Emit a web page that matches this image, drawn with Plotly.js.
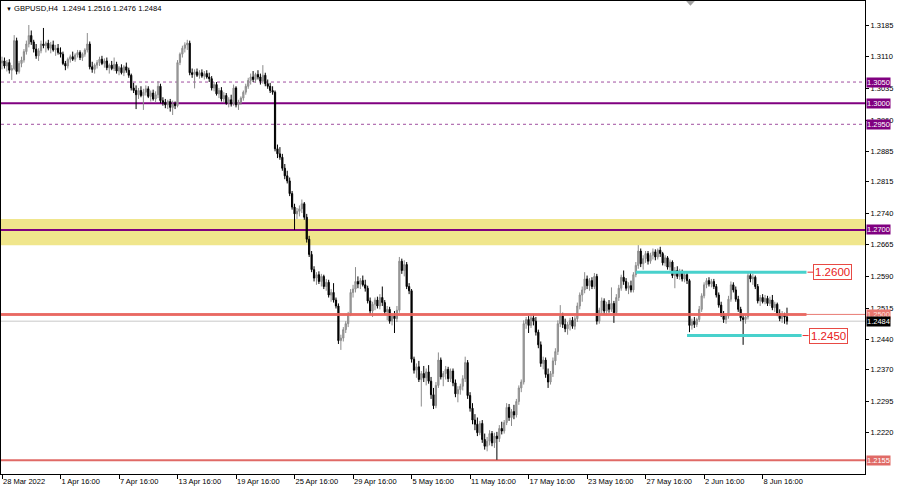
<!DOCTYPE html>
<html>
<head>
<meta charset="utf-8">
<script src="https://cdn.plot.ly/plotly-3.0.1.min.js"></script>
<style>html,body{margin:0;padding:0;background:#fff;}#chart{width:900px;height:488px;}</style>
</head>
<body>
<div id="chart"></div>
<script>
// ---- Data (GBPUSD H4) ----
const openP = [
1.3095,1.3100,1.3088,1.3096,1.3078,1.3082,1.3148,1.3075,1.3094,1.3102,1.3122,1.3140,1.3160,
1.3145,1.3128,1.3112,1.3124,1.3140,1.3136,1.3142,1.3130,1.3138,1.3126,1.3130,1.3120,
1.3116,1.3094,1.3088,1.3104,
1.3110,1.3104,1.3114,1.3120,1.3108,1.3116,1.3126,1.3140,
1.3086,1.3080,1.3090,1.3096,
1.3104,1.3094,1.3100,
1.3084,1.3090,1.3082,1.3092,1.3076,1.3084,1.3072,1.3086,1.3078,
1.3066,1.3036,
1.3030,1.3020,1.3030,1.3018,1.3026,1.3034,1.3016,1.3024,1.3010,1.3020,
1.3040,1.3006,1.3002,1.2996,1.3004,1.2990,1.2998,
1.2994,1.3096,1.3116,1.3130,1.3138,1.3142,
1.3072,1.3068,1.3074,1.3066,1.3072,1.3064,1.3070,1.3062,
1.3058,1.3036,1.3044,1.3022,1.3030,1.3010,1.3018,1.3000,
1.3008,1.2998,1.3036,1.2996,
1.3002,1.3012,1.3026,1.3040,1.3054,1.3062,1.3056,1.3068,1.3062,1.3052,
1.3066,1.3046,1.3040,1.3030,1.3026,
1.2892,1.2880,1.2872,1.2846,1.2828,1.2816,1.2786,
1.2754,1.2738,1.2744,1.2750,1.2762,
1.2730,1.2678,1.2642,1.2606,
1.2586,1.2594,1.2578,
1.2590,1.2566,1.2576,1.2546,1.2552,1.2534,
1.2520,1.2438,
1.2444,1.2464,1.2478,
1.2500,1.2552,
1.2560,1.2578,1.2572,1.2580,1.2570,
1.2562,1.2532,1.2508,
1.2524,1.2534,1.2520,1.2540,
1.2528,1.2506,1.2512,1.2484,1.2496,1.2490,
1.2510,1.2626,
1.2604,1.2618,1.2566,
1.2556,
1.2394,1.2368,1.2376,1.2346,1.2360,1.2350,1.2364,
1.2342,1.2310,1.2284,1.2332,1.2392,1.2352,1.2360,1.2370,1.2348,1.2366,1.2338,1.2312,1.2322,1.2330,1.2348,
1.2386,1.2308,1.2278,1.2250,1.2240,1.2220,1.2242,1.2204,1.2188,1.2200,1.2218,1.2196,1.2212,1.2206,1.2230,1.2224,1.2244,1.2280,1.2256,1.2270,1.2262,1.2294,1.2326,
1.2340,1.2478,1.2488,1.2474,1.2492,1.2484,1.2458,1.2428,1.2384,1.2392,1.2358,1.2340,1.2360,1.2390,1.2412,1.2478,1.2496,1.2476,1.2466,1.2476,1.2486,1.2472,
1.2490,1.2520,1.2546,1.2558,1.2584,1.2568,1.2580,1.2566,1.2590,1.2484,1.2510,1.2532,1.2508,1.2524,1.2512,1.2526,1.2504,1.2540,1.2562,1.2588,1.2578,1.2562,1.2568,1.2558,1.2594,
1.2616,1.2650,1.2620,1.2632,1.2644,1.2626,1.2640,1.2648,1.2636,1.2652,1.2644,1.2622,1.2634,1.2612,1.2624,1.2592,1.2604,1.2590,1.2600,1.2584,1.2594,
1.2580,1.2474,1.2484,1.2476,1.2488,1.2512,1.2544,1.2570,1.2580,1.2572,1.2578,1.2566,1.2546,1.2522,1.2500,1.2488,1.2496,1.2536,1.2570,1.2558,1.2536,1.2512,1.2492,1.2488,
1.2494,1.2592,1.2584,1.2588,1.2566,1.2532,1.2540,1.2530,1.2538,1.2526,1.2534,1.2516,1.2524,1.2502,1.2490,1.2498,1.2494
];
const highP = [
1.3110,1.3108,1.3102,1.3104,1.3090,1.3161,1.3155,1.3100,1.3110,1.3128,1.3148,1.3185,1.3172,
1.3150,1.3140,1.3130,1.3148,1.3178,1.3146,1.3150,1.3145,1.3148,1.3138,1.3140,1.3132,
1.3122,1.3100,1.3108,1.3115,
1.3122,1.3118,1.3126,1.3125,1.3120,1.3130,1.3166,1.3146,
1.3098,1.3094,1.3102,1.3110,
1.3112,1.3106,1.3108,
1.3094,1.3100,1.3108,1.3098,1.3088,1.3092,1.3090,1.3096,1.3084,
1.3070,1.3048,
1.3042,1.3036,1.3040,1.3034,1.3042,1.3040,1.3030,1.3032,1.3028,1.3052,
1.3046,1.3014,1.3010,1.3008,1.3010,1.3006,1.3004,
1.3102,1.3120,1.3136,1.3144,1.3150,1.3148,
1.3082,1.3080,1.3082,1.3078,1.3080,1.3076,1.3078,1.3072,
1.3064,1.3050,1.3050,1.3036,1.3038,1.3026,1.3024,1.3014,
1.3020,1.3044,1.3040,1.3008,
1.3016,1.3030,1.3046,1.3060,1.3070,1.3076,1.3072,1.3078,1.3070,1.3090,
1.3072,1.3056,1.3048,1.3040,1.3030,
1.2902,1.2896,1.2880,1.2856,1.2840,1.2824,1.2792,
1.2762,1.2752,1.2758,1.2772,1.2766,
1.2738,1.2686,1.2650,1.2614,
1.2600,1.2602,1.2596,
1.2594,1.2584,1.2582,1.2560,1.2574,1.2540,
1.2526,1.2452,
1.2470,1.2484,1.2506,
1.2560,1.2570,
1.2612,1.2590,1.2586,1.2592,1.2582,
1.2568,1.2540,1.2530,
1.2540,1.2542,1.2548,1.2566,
1.2534,1.2520,1.2518,1.2502,1.2508,1.2520,
1.2636,1.2632,
1.2628,1.2624,1.2574,
1.2560,
1.2400,1.2384,1.2390,1.2366,1.2378,1.2372,1.2380,
1.2352,1.2326,1.2340,1.2410,1.2398,1.2366,1.2378,1.2376,1.2372,1.2372,1.2346,1.2330,1.2336,1.2356,1.2400,
1.2392,1.2316,1.2290,1.2264,1.2256,1.2248,1.2250,1.2218,1.2210,1.2226,1.2224,1.2220,1.2222,1.2238,1.2246,1.2250,1.2290,1.2288,1.2276,1.2286,1.2300,1.2332,1.2346,
1.2486,1.2494,1.2496,1.2498,1.2500,1.2494,1.2464,1.2436,1.2400,1.2398,1.2372,1.2366,1.2398,1.2420,1.2486,1.2522,1.2504,1.2490,1.2482,1.2492,1.2494,1.2496,
1.2528,1.2552,1.2566,1.2600,1.2592,1.2586,1.2588,1.2598,1.2596,1.2516,1.2540,1.2538,1.2530,1.2534,1.2564,1.2532,1.2548,1.2570,1.2594,1.2604,1.2586,1.2576,1.2580,1.2600,1.2624,
1.2664,1.2656,1.2640,1.2650,1.2650,1.2646,1.2656,1.2654,1.2656,1.2660,1.2648,1.2640,1.2638,1.2630,1.2628,1.2612,1.2614,1.2608,1.2606,1.2600,1.2600,
1.2584,1.2490,1.2494,1.2492,1.2520,1.2550,1.2576,1.2586,1.2588,1.2584,1.2584,1.2572,1.2552,1.2530,1.2508,1.2502,1.2544,1.2578,1.2576,1.2566,1.2544,1.2518,1.2500,1.2500,
1.2600,1.2600,1.2596,1.2592,1.2572,1.2546,1.2548,1.2546,1.2544,1.2542,1.2546,1.2530,1.2528,1.2512,1.2508,1.2504,1.2516
];
const lowP = [
1.3080,1.3082,1.3075,1.3070,1.3055,1.3078,1.3068,1.3070,1.3085,1.3096,1.3115,1.3132,1.3138,
1.3120,1.3105,1.3100,1.3118,1.3130,1.3120,1.3125,1.3118,1.3122,1.3112,1.3115,1.3108,
1.3090,1.3078,1.3082,1.3096,
1.3100,1.3098,1.3108,1.3102,1.3100,1.3110,1.3120,1.3080,
1.3072,1.3070,1.3082,1.3088,
1.3090,1.3084,1.3078,
1.3070,1.3078,1.3076,1.3070,1.3066,1.3068,1.3064,1.3072,1.3060,
1.3030,1.3024,
1.2986,1.3010,1.3014,1.2984,1.3018,1.3012,1.3004,1.3006,1.3002,1.3012,
1.3000,1.2994,1.2988,1.2986,1.2980,1.2972,1.2986,
1.2990,1.3090,1.3108,1.3120,1.3126,1.3066,
1.3060,1.3035,1.3062,1.3058,1.3060,1.3056,1.3058,1.3050,
1.3030,1.3028,1.3018,1.3012,1.3004,1.3002,1.2996,1.2990,
1.2992,1.2994,1.2990,1.2984,
1.2996,1.3006,1.3020,1.3034,1.3044,1.3050,1.3048,1.3056,1.3044,1.3046,
1.3040,1.3034,1.3024,1.3020,1.2886,
1.2870,1.2866,1.2840,1.2820,1.2810,1.2780,1.2748,
1.2700,1.2726,1.2732,1.2740,1.2724,
1.2670,1.2636,1.2600,1.2578,
1.2570,1.2572,1.2566,
1.2560,1.2556,1.2540,1.2530,1.2528,1.2514,
1.2430,1.2416,
1.2436,1.2456,1.2470,
1.2496,1.2540,
1.2552,1.2562,1.2560,1.2566,1.2554,
1.2526,1.2500,1.2494,
1.2510,1.2514,1.2512,1.2520,
1.2500,1.2486,1.2478,1.2474,1.2456,1.2482,
1.2504,1.2596,
1.2590,1.2560,1.2548,
1.2386,
1.2360,1.2350,1.2340,1.2282,1.2340,1.2332,1.2336,
1.2300,1.2276,1.2278,1.2326,1.2346,1.2330,1.2346,1.2340,1.2340,1.2330,1.2304,1.2292,1.2310,1.2320,1.2340,
1.2300,1.2270,1.2240,1.2226,1.2212,1.2214,1.2196,1.2180,1.2176,1.2190,1.2188,1.2184,1.2156,1.2198,1.2216,1.2218,1.2238,1.2248,1.2236,1.2252,1.2256,1.2286,1.2316,
1.2334,1.2466,1.2456,1.2468,1.2474,1.2450,1.2420,1.2376,1.2370,1.2350,1.2326,1.2334,1.2352,1.2380,1.2404,1.2470,1.2468,1.2458,1.2452,1.2462,1.2466,1.2464,
1.2482,1.2512,1.2530,1.2550,1.2560,1.2556,1.2560,1.2560,1.2476,1.2478,1.2502,1.2500,1.2498,1.2504,1.2506,1.2480,1.2498,1.2532,1.2556,1.2570,1.2556,1.2548,1.2552,1.2552,1.2588,
1.2608,1.2612,1.2606,1.2622,1.2618,1.2620,1.2630,1.2628,1.2630,1.2636,1.2616,1.2614,1.2606,1.2604,1.2586,1.2562,1.2584,1.2582,1.2578,1.2576,1.2572,
1.2458,1.2464,1.2468,1.2470,1.2482,1.2506,1.2538,1.2562,1.2566,1.2564,1.2560,1.2540,1.2516,1.2494,1.2480,1.2478,1.2490,1.2530,1.2552,1.2530,1.2506,1.2484,1.2428,1.2478,
1.2488,1.2576,1.2570,1.2560,1.2526,1.2520,1.2526,1.2524,1.2520,1.2520,1.2510,1.2506,1.2496,1.2484,1.2480,1.2478,1.2476
];
const closeP = [
1.3100,1.3088,1.3096,1.3078,1.3082,1.3148,1.3075,1.3094,1.3102,1.3122,1.3140,1.3160,1.3145,
1.3128,1.3112,1.3124,1.3140,1.3136,1.3142,1.3130,1.3138,1.3126,1.3130,1.3120,1.3116,
1.3094,1.3088,1.3104,1.3110,
1.3104,1.3114,1.3120,1.3108,1.3116,1.3126,1.3140,1.3086,
1.3080,1.3090,1.3096,1.3104,
1.3094,1.3100,1.3084,
1.3090,1.3082,1.3092,1.3076,1.3084,1.3072,1.3086,1.3078,1.3066,
1.3036,1.3030,
1.3020,1.3030,1.3018,1.3026,1.3034,1.3016,1.3024,1.3010,1.3020,1.3040,
1.3006,1.3002,1.2996,1.3004,1.2990,1.2998,1.2994,
1.3096,1.3116,1.3130,1.3138,1.3142,1.3072,
1.3068,1.3074,1.3066,1.3072,1.3064,1.3070,1.3062,1.3058,
1.3036,1.3044,1.3022,1.3030,1.3010,1.3018,1.3000,1.3008,
1.2998,1.3036,1.2996,1.3002,
1.3012,1.3026,1.3040,1.3054,1.3062,1.3056,1.3068,1.3062,1.3052,1.3066,
1.3046,1.3040,1.3030,1.3026,1.2892,
1.2880,1.2872,1.2846,1.2828,1.2816,1.2786,1.2754,
1.2738,1.2744,1.2750,1.2762,1.2730,
1.2678,1.2642,1.2606,1.2586,
1.2594,1.2578,1.2590,
1.2566,1.2576,1.2546,1.2552,1.2534,1.2520,
1.2438,1.2444,
1.2464,1.2478,1.2500,
1.2552,1.2560,
1.2578,1.2572,1.2580,1.2570,1.2562,
1.2532,1.2508,1.2524,
1.2534,1.2520,1.2540,1.2528,
1.2506,1.2512,1.2484,1.2496,1.2490,1.2510,
1.2626,1.2604,
1.2618,1.2566,1.2556,
1.2394,
1.2368,1.2376,1.2346,1.2360,1.2350,1.2364,1.2342,
1.2310,1.2284,1.2332,1.2392,1.2352,1.2360,1.2370,1.2348,1.2366,1.2338,1.2312,1.2322,1.2330,1.2348,1.2386,
1.2308,1.2278,1.2250,1.2240,1.2220,1.2242,1.2204,1.2188,1.2200,1.2218,1.2196,1.2212,1.2206,1.2230,1.2224,1.2244,1.2280,1.2256,1.2270,1.2262,1.2294,1.2326,1.2340,
1.2478,1.2488,1.2474,1.2492,1.2484,1.2458,1.2428,1.2384,1.2392,1.2358,1.2340,1.2360,1.2390,1.2412,1.2478,1.2496,1.2476,1.2466,1.2476,1.2486,1.2472,1.2490,
1.2520,1.2546,1.2558,1.2584,1.2568,1.2580,1.2566,1.2590,1.2484,1.2510,1.2532,1.2508,1.2524,1.2512,1.2526,1.2504,1.2540,1.2562,1.2588,1.2578,1.2562,1.2568,1.2558,1.2594,1.2616,
1.2650,1.2620,1.2632,1.2644,1.2626,1.2640,1.2648,1.2636,1.2652,1.2644,1.2622,1.2634,1.2612,1.2624,1.2592,1.2604,1.2590,1.2600,1.2584,1.2594,1.2580,
1.2474,1.2484,1.2476,1.2488,1.2512,1.2544,1.2570,1.2580,1.2572,1.2578,1.2566,1.2546,1.2522,1.2500,1.2488,1.2496,1.2536,1.2570,1.2558,1.2536,1.2512,1.2492,1.2488,1.2494,
1.2592,1.2584,1.2588,1.2566,1.2532,1.2540,1.2530,1.2538,1.2526,1.2534,1.2516,1.2524,1.2502,1.2490,1.2498,1.2494,1.2484
];

// time axis: bar index of each labelled bar and its label
const timeTickBars = [0, 24, 48, 72, 96, 120, 144, 168, 192, 216, 240, 264, 288, 312];
const timeTickText = ['28 Mar 2022','1 Apr 16:00','7 Apr 16:00','13 Apr 16:00','19 Apr 16:00','25 Apr 16:00',
  '29 Apr 16:00','5 May 16:00','11 May 16:00','17 May 16:00','23 May 16:00','27 May 16:00','2 Jun 16:00','8 Jun 16:00'];

// price axis ticks
const priceTicks = [1.3185, 1.3110, 1.3035, 1.2960, 1.2885, 1.2815, 1.2740, 1.2665, 1.2590, 1.2515, 1.2440, 1.2370, 1.2295, 1.2220];
const priceTickText = ['1.3185','1.3110','1.3035','1.2960','1.2885','1.2815','1.2740','1.2665','1.2590','1.2515','1.2440','1.2370','1.2295','1.2220'];

// horizontal levels
const purpleSolidLevels = [1.3000, 1.2700];
const purpleDottedLevels = [1.3050, 1.2950];
const keyZone = [1.2664, 1.2726];
const redLevel = 1.2500;
const redLevelEndBar = 330;
const lowLevel = 1.2155;
const bidPrice = 1.2484;
const targetLevels = [1.2600, 1.2450];
const targetStartBar = [260, 281];
const targetEndBar = [330, 328];
const targetText = ['1.2600', '1.2450'];
const titleText = 'GBPUSD,H4  1.2494 1.2516 1.2476 1.2484';

// ---- Build ----
const barIdx = closeP.map((_, i) => i);
const FONT = 'Liberation Sans, Arial, sans-serif';
const PURPLE = '#800080';

const trace = {
  type: 'candlestick',
  x: barIdx, open: openP, high: highP, low: lowP, close: closeP,
  increasing: {line: {color: '#8c8c8c', width: 1}, fillcolor: '#a8a8a8'},
  decreasing: {line: {color: '#000000', width: 1}, fillcolor: '#000000'},
  whiskerwidth: 0,
  hoverinfo: 'skip',
  showlegend: false
};

const shapes = [];
shapes.push({type:'rect', xref:'paper', x0:0, x1:1, yref:'y', y0:keyZone[0], y1:keyZone[1],
  fillcolor:'rgb(240,230,140)', line:{width:0}, layer:'below'});
purpleDottedLevels.forEach(v => shapes.push({type:'line', xref:'paper', x0:0, x1:1, yref:'y', y0:v, y1:v,
  line:{color:'#a050a0', width:1, dash:'dot'}, layer:'below'}));
purpleSolidLevels.forEach(v => shapes.push({type:'line', xref:'paper', x0:0, x1:1, yref:'y', y0:v, y1:v,
  line:{color:PURPLE, width:2}, layer:'below'}));
shapes.push({type:'line', xref:'paper', x0:0, x1:1, yref:'y', y0:bidPrice, y1:bidPrice,
  line:{color:'#c8c8c8', width:1}, layer:'below'});
shapes.push({type:'line', xref:'paper', x0:0, x1:1, yref:'y', y0:redLevel, y1:redLevel,
  line:{color:'#e87a74', width:1}, layer:'below'});
shapes.push({type:'line', xref:'x', x0:-1, x1:redLevelEndBar, yref:'y', y0:redLevel, y1:redLevel,
  line:{color:'#e9665f', width:3}, layer:'above', opacity:0.9});
shapes.push({type:'line', xref:'paper', x0:0, x1:1, yref:'y', y0:lowLevel, y1:lowLevel,
  line:{color:'#e06a66', width:2}, layer:'below'});
targetLevels.forEach((v, k) => {
  shapes.push({type:'line', xref:'x', x0:targetStartBar[k], x1:targetEndBar[k], yref:'y', y0:v, y1:v,
    line:{color:'#48d1cc', width:3}, layer:'above'});
  shapes.push({type:'line', xref:'x', xsizemode:'pixel', xanchor:targetEndBar[k], x0:1, x1:7,
    yref:'y', y0:v, y1:v, line:{color:'#e83030', width:1}});
});
// chart-shift marker at top
shapes.push({type:'path', xref:'paper', yref:'paper', path:'M 0.793 1 L 0.803 1 L 0.798 0.99 Z',
  fillcolor:'#a0a0a0', line:{width:0}});

const annotations = [];
annotations.push({xref:'paper', yref:'paper', x:0.004, y:0.998, xanchor:'left', yanchor:'top', showarrow:false,
  text:'<span style="font-size:6px">▼</span> ' + titleText, font:{family:FONT, size:7.6, color:'#000'}});
const rightLabels = [
  {v:1.3050, bg:PURPLE, fg:'#ffffff'}, {v:1.3000, bg:PURPLE, fg:'#ffffff'}, {v:1.2950, bg:PURPLE, fg:'#ffffff'},
  {v:1.2700, bg:PURPLE, fg:'#ffffff'}, {v:redLevel, bg:'#e8766f', fg:'#fbe0de'}, {v:bidPrice, bg:'#000000', fg:'#ffffff'},
  {v:lowLevel, bg:'#e06a66', fg:'#ffffff'}
];
rightLabels.forEach(l => annotations.push({xref:'paper', x:1, xanchor:'left', xshift:1, yref:'y', y:l.v, yanchor:'middle',
  showarrow:false, text:l.v.toFixed(4), bgcolor:l.bg, borderpad:0, font:{family:FONT, size:7.5, color:l.fg}}));
targetLevels.forEach((v, k) => annotations.push({xref:'x', x:targetEndBar[k], xanchor:'left', xshift:7, yref:'y', y:v,
  yanchor:'middle', showarrow:false, text:targetText[k], bgcolor:'#ffffff', bordercolor:'#e84a44', borderwidth:1,
  borderpad:1, font:{family:FONT, size:11.5, color:'#e8201a'}}));

const layout = {
  width: 900, height: 488,
  margin: {l:1, r:35, t:1, b:14, pad:0},
  paper_bgcolor: '#ffffff', plot_bgcolor: '#ffffff',
  showlegend: false,
  dragmode: false,
  xaxis: {
    range: [-0.41, 354], showgrid:false, zeroline:false,
    showline:true, linecolor:'#000', linewidth:1, mirror:true,
    ticks:'outside', ticklen:4, tickcolor:'#000', tickwidth:1,
    tickvals: timeTickBars, ticktext: timeTickText,
    ticklabelposition: 'outside right',
    tickfont: {family:FONT, size:7.5, color:'#000'},
    rangeslider: {visible:false}, fixedrange:true
  },
  yaxis: {
    side:'right', range:[1.21223, 1.32418], showgrid:false, zeroline:false,
    showline:true, linecolor:'#000', linewidth:1, mirror:true,
    ticks:'outside', ticklen:3, tickcolor:'#000',
    tickvals: priceTicks, ticktext: priceTickText,
    tickfont: {family:FONT, size:7.5, color:'#000'}, fixedrange:true
  },
  shapes: shapes,
  annotations: annotations
};

Plotly.newPlot('chart', [trace], layout, {staticPlot:true, displayModeBar:false});
</script>
</body>
</html>
